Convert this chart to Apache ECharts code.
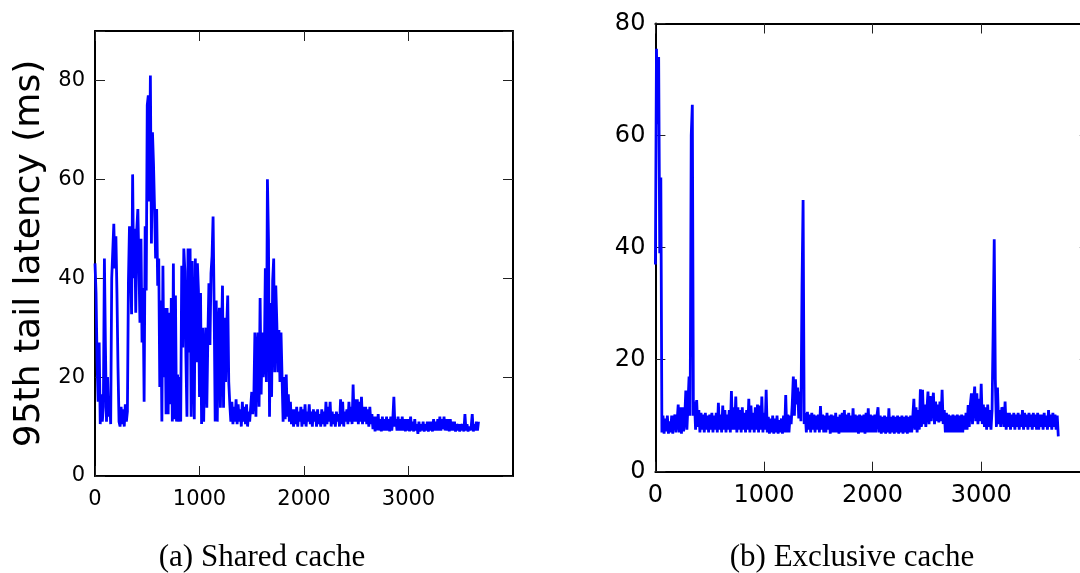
<!DOCTYPE html>
<html>
<head>
<meta charset="utf-8">
<script src="https://cdn.jsdelivr.net/npm/echarts@6/dist/echarts.min.js"></script>
<style>
  html, body { margin: 0; padding: 0; background: #ffffff; }
  #chart { width: 1080px; height: 573px; }
</style>
</head>
<body>
<div id="chart"></div>
<script>
// Seconds between consecutive latency samples
const SAMPLE_STEP = 10;

// Tick values on the time axes
const xTickValues = [0, 1000, 2000, 3000];

// Panel captions and axis title
const panelCaptions = ['(a) Shared cache', '(b) Exclusive cache'];
const yAxisTitle = '95th tail latency (ms)';

// 95th percentile tail latency (ms), shared cache
const sharedLatency = [
  43, 37, 23, 15, 27, 10.5, 16.5, 11, 14, 44,
  26, 11, 20, 12, 16, 10.5, 40, 45.5, 51, 42,
  48.5, 37, 22, 11, 10, 14, 10.5, 13.5, 10, 14.5,
  11, 13, 39.5, 50.5, 44, 32.7, 61, 40, 50, 33,
  50, 54, 43, 31, 48, 27, 38, 15, 50.5, 37.5,
  75, 77, 55.5, 81, 47, 69.5, 63, 54, 44, 54,
  38.5, 44, 18, 35.5, 11, 42.5, 20, 34, 12.5, 34,
  12.5, 33, 14.5, 36, 11, 43, 11.5, 36.5, 11, 20.5,
  11, 20, 11, 42.5, 26, 46, 41.5, 24, 12, 46,
  25, 46, 12, 43.5, 25.5, 11.5, 44, 23, 43, 37.5,
  16, 37, 10.5, 30, 11, 25, 30, 13.8, 28, 39,
  26.5, 41, 44.5, 52.5, 34.5, 11, 35.5, 11, 30, 34,
  13.8, 28, 38.5, 13.8, 32, 19, 30, 36.5, 19, 14.5,
  11, 15, 10.5, 14, 11, 15.5, 10.5, 14.5, 11, 13.5,
  10, 15, 11, 14, 10.5, 14.5, 10, 13, 11, 14,
  17, 12.5, 16, 29, 12, 25, 29, 14, 36, 16.5,
  29, 20, 23, 42, 19, 60, 48, 12, 35, 16,
  39.5, 44, 21, 38.5, 31, 21, 29.5, 19, 29, 20,
  11, 20, 11.5, 20.5, 12, 16.5, 11, 15, 10.5, 13.5,
  10, 13.5, 10.5, 14, 10, 13, 11, 14, 10, 13.5,
  10.5, 14.5, 10, 13, 11, 14.5, 10.5, 13, 10, 13.5,
  11, 13, 10, 13.5, 10.5, 12.5, 10, 13.5, 10.5, 13,
  10, 15, 10.5, 14, 11, 15, 10, 13, 10.5, 12.5,
  10, 13, 11, 12.5, 10, 15.5, 10.5, 15, 10, 13,
  11, 13.5, 10.5, 15, 11, 14, 10.5, 18.5, 11, 15.5,
  11, 15.5, 10.5, 15, 11, 16, 10.5, 14, 11, 14,
  10.5, 13.5, 10, 14, 10.5, 12.5, 9.5, 12, 9, 12,
  9.2, 12.5, 9.2, 11.5, 9, 12, 9.2, 11.5, 9.2, 12,
  9.2, 11.5, 9, 12, 9.2, 11.5, 16, 10, 11.5, 9.2,
  12, 9.2, 11.5, 9.2, 12, 9.2, 11.5, 9, 11.5, 9.2,
  11.5, 9, 12, 9.2, 11, 9, 11.5, 9.2, 10.5, 8.5,
  11, 9, 10.5, 9.2, 11, 9, 10.5, 9.2, 11, 9,
  11, 9.2, 11, 9, 11.5, 9.2, 11, 9.2, 11.5, 9.2,
  12, 9.2, 11.5, 9.5, 12, 9.2, 11.5, 9.2, 11.5, 9,
  11.5, 9.2, 11, 9.2, 11, 9, 10.5, 9.2, 10.5, 9,
  10.5, 9.2, 10.5, 9, 12.5, 9.2, 10.5, 9, 10, 9.2,
  10, 12.5, 9, 10.5, 9.2, 11, 9.2, 11
];

// 95th percentile tail latency (ms), exclusive cache
const exclusiveLatency = [
  37, 75.5, 62, 74, 39, 52.5, 7, 10, 6.8, 9.5,
  7.2, 10, 6.8, 9, 7, 10, 6.8, 9.5, 10.2, 7,
  9, 12, 7, 11.5, 6.8, 11.5, 7.2, 9.5, 14.5, 7.5,
  12, 17, 10, 60, 65.5, 10, 12.5, 7.5, 12.8, 8,
  11, 7, 10.5, 7.5, 10.2, 7, 10.5, 7.5, 10, 7,
  10.2, 7.5, 10.5, 7, 10, 7.5, 10.5, 7, 12.3, 7.5,
  10.2, 7, 11.8, 7.5, 11, 7, 10.2, 7.5, 11, 7,
  14.4, 7.5, 11.5, 7.5, 13.4, 7, 11.5, 7.5, 11, 7,
  11.5, 7.5, 10.5, 7, 11, 7.5, 13, 7, 11.8, 7.5,
  10.5, 7, 11.5, 7.5, 12, 7, 11.8, 7.5, 13.4, 7,
  10.5, 7.5, 14.6, 7, 9.8, 6.8, 9.5, 7, 10, 6.8,
  9.5, 7, 10, 6.8, 9.2, 7, 9.5, 6.8, 10, 7,
  13.7, 7, 10.2, 7, 10, 8.5, 12, 17, 10, 16.5,
  12, 15, 9.5, 14.3, 9, 33, 48.5, 8.5, 10.5, 7,
  10.7, 7.5, 10.2, 7, 10.5, 7.5, 10.2, 7, 10, 7.5,
  10.2, 7, 11.7, 7.5, 10.2, 7, 10, 7, 10.5, 7.5,
  10, 6.8, 10.2, 7, 10, 7, 10.5, 7, 9.8, 6.8,
  10.2, 7, 10.5, 7, 11, 7, 10.2, 7, 10.5, 7,
  10, 7, 11.3, 7, 10.2, 7, 10, 6.8, 10.2, 7,
  10, 7, 10.2, 6.8, 10.5, 7, 11.3, 7, 10.2, 7,
  10, 7, 10.2, 7, 10, 11.5, 7, 10, 6.8, 9.8,
  7, 10, 6.8, 9.8, 7, 11.3, 6.8, 9.8, 7, 10,
  6.8, 9.8, 7, 10, 6.8, 9.8, 7, 10, 6.8, 9.8,
  7, 10, 6.8, 9.8, 7, 10, 7, 9.8, 13, 7.5,
  11.5, 7, 11, 7.5, 14.7, 8, 14.6, 8.5, 12, 8,
  11, 14.3, 8.5, 13.5, 9, 12, 14.1, 8.5, 12.5, 9,
  12, 8.8, 12.5, 9, 14.6, 8.5, 11, 7, 10.5, 7,
  10.2, 7, 10, 7, 10.2, 7, 10, 7, 10.2, 7,
  10, 7, 10.2, 7, 10, 7.5, 10.5, 7.5, 11.9, 8,
  12, 14, 8.5, 12.5, 15.2, 9, 14, 8.5, 13, 9,
  15.7, 8.5, 12, 8, 11.5, 7.5, 12, 8, 11, 7.5,
  11, 25, 41.5, 16.5, 8, 15, 8.5, 11, 8, 11.5,
  11, 8, 12.5, 7.5, 10.5, 8, 10.5, 7.5, 10.2, 8,
  10.5, 7.5, 10.2, 8, 10.5, 7.5, 10.2, 8, 11, 7.5,
  10.5, 8, 10.2, 7.5, 10.5, 8, 10.2, 7.5, 10.5, 8,
  10.2, 7.5, 10.5, 7.5, 10.2, 8, 10.2, 7.5, 10.5, 8,
  10, 7.5, 11, 8, 10.2, 7.5, 10.5, 8, 10.2, 7.5,
  10, 6.3
];

const LINE_BLUE = '#0000ff';
const FRAME = '#000000';
const SANS = 'DejaVu Sans';
const LINE_WIDTH = 2.8;

function toSeries(values) {
  return values.map((v, i) => [i * SAMPLE_STEP, v]);
}

const tickSet = new Set(xTickValues);

function bottomX(gridIndex, fontSize, margin) {
  return {
    type: 'value', gridIndex, position: 'bottom',
    min: 0, max: 4000, interval: 1000,
    axisLine: { show: true, onZero: false, lineStyle: { color: FRAME, width: 2 } },
    axisTick: { show: true, inside: true, length: 10, lineStyle: { color: '#222', width: 1 } },
    axisLabel: {
      show: true, margin, color: '#000', fontFamily: SANS, fontSize,
      showMaxLabel: false,
      formatter: v => (tickSet.has(v) ? String(v) : '')
    },
    splitLine: { show: false }
  };
}
function topX(gridIndex) {
  return {
    type: 'value', gridIndex, position: 'top',
    min: 0, max: 4000, interval: 1000,
    axisLine: { show: true, onZero: false, lineStyle: { color: FRAME, width: 2 } },
    axisTick: { show: true, inside: true, length: 10, lineStyle: { color: '#222', width: 1 } },
    axisLabel: { show: false },
    splitLine: { show: false }
  };
}
function leftY(gridIndex, max, fontSize, extra) {
  return Object.assign({
    type: 'value', gridIndex, position: 'left',
    min: 0, max, interval: 20,
    axisLine: { show: true, onZero: false, lineStyle: { color: FRAME, width: 2 } },
    axisTick: { show: true, inside: true, length: 10, lineStyle: { color: '#222', width: 1 } },
    axisLabel: {
      show: true, margin: 10, color: '#000', fontFamily: SANS, fontSize,
      formatter: v => (v % 20 === 0 ? String(v) : '')
    },
    splitLine: { show: false }
  }, extra || {});
}
function rightY(gridIndex, max) {
  return {
    type: 'value', gridIndex, position: 'right',
    min: 0, max, interval: 20,
    axisLine: { show: true, onZero: false, lineStyle: { color: FRAME, width: 2 } },
    axisTick: { show: true, inside: true, length: 10, lineStyle: { color: '#222', width: 1 } },
    axisLabel: { show: false },
    splitLine: { show: false }
  };
}

const chart = echarts.init(document.getElementById('chart'), null, { renderer: 'canvas' });

chart.setOption({
  animation: false,
  backgroundColor: '#ffffff',
  grid: [
    { left: 95, top: 31, width: 418, height: 445, containLabel: false, outerBoundsMode: 'none' },
    // the right-hand frame of this panel sits just past the canvas edge
    { left: 655.4, top: 23.5, width: 434.4, height: 448.2, containLabel: false, outerBoundsMode: 'none' }
  ],
  xAxis: [bottomX(0, 21, 13), topX(0), bottomX(1, 24, 12), topX(1)],
  yAxis: [
    leftY(0, 90, 21, {
      name: yAxisTitle,
      nameLocation: 'middle',
      nameGap: 47,
      nameRotate: 90,
      nameTextStyle: { fontFamily: SANS, fontSize: 36, color: '#000' }
    }),
    rightY(0, 90),
    leftY(1, 80, 24),
    rightY(1, 80)
  ],
  series: [
    {
      type: 'line', xAxisIndex: 0, yAxisIndex: 0,
      data: toSeries(sharedLatency),
      showSymbol: false, symbol: 'none', sampling: null,
      lineStyle: { color: LINE_BLUE, width: LINE_WIDTH },
      itemStyle: { color: LINE_BLUE },
      z: 1
    },
    {
      type: 'line', xAxisIndex: 2, yAxisIndex: 2,
      data: toSeries(exclusiveLatency),
      showSymbol: false, symbol: 'none', sampling: null,
      lineStyle: { color: LINE_BLUE, width: LINE_WIDTH },
      itemStyle: { color: LINE_BLUE },
      z: 1
    }
  ],
  graphic: [
    {
      type: 'text', x: 262, y: 558,
      style: { text: panelCaptions[0], font: '31px "Liberation Serif"', fill: '#000', align: 'center', verticalAlign: 'middle' }
    },
    {
      type: 'text', x: 852, y: 558,
      style: { text: panelCaptions[1], font: '31px "Liberation Serif"', fill: '#000', align: 'center', verticalAlign: 'middle' }
    }
  ]
});
</script>
</body>
</html>
